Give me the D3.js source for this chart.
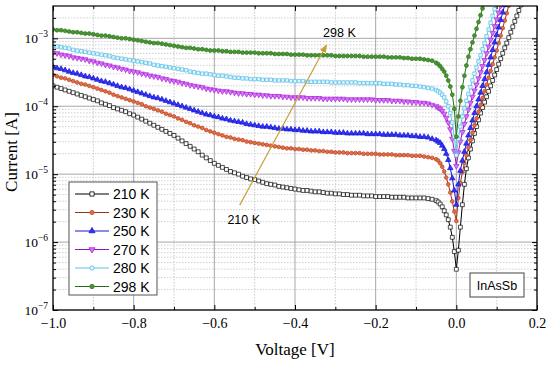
<!DOCTYPE html>
<html>
<head>
<meta charset="utf-8">
<script src="https://cdn.jsdelivr.net/npm/d3@7"></script>
<style>
  body { margin: 0; background: #fff; }
  svg { display: block; }
  .serif { font-family: "Liberation Serif", "Times New Roman", serif; }
  .sans { font-family: "Liberation Sans", Arial, sans-serif; }
</style>
</head>
<body>
<svg id="chart" width="550" height="365"></svg>
<script>
"use strict";

// voltage sweep: 10 mV steps up to -0.06 V, then 5 mV steps from -0.05 V to 0.2 V
const voltage = d3.range(-100, -5).map(i => i / 100)
    .concat(d3.range(-10, 41).map(i => i / 200));

// log10 of current [A], same order as voltage
const logI210 = [
    -3.70,-3.72,-3.74,-3.76,-3.78,-3.80,-3.82,-3.84,-3.86,-3.88,
    -3.90,-3.92,-3.95,-3.97,-3.99,-4.02,-4.04,-4.06,-4.08,-4.11,
    -4.13,-4.16,-4.19,-4.22,-4.25,-4.28,-4.31,-4.34,-4.37,-4.40,
    -4.43,-4.47,-4.51,-4.55,-4.59,-4.63,-4.67,-4.72,-4.76,-4.80,
    -4.84,-4.87,-4.90,-4.93,-4.96,-4.98,-5.00,-5.03,-5.05,-5.07,
    -5.08,-5.10,-5.12,-5.14,-5.15,-5.16,-5.18,-5.19,-5.20,-5.21,
    -5.22,-5.23,-5.24,-5.24,-5.25,-5.26,-5.26,-5.27,-5.28,-5.28,
    -5.29,-5.29,-5.30,-5.30,-5.31,-5.31,-5.31,-5.32,-5.32,-5.32,
    -5.33,-5.33,-5.33,-5.33,-5.34,-5.34,-5.34,-5.34,-5.35,-5.35,
    -5.35,-5.35,-5.35,-5.36,-5.37,
    -5.39,-5.41,-5.44,-5.48,-5.54,-5.60,-5.67,-5.78,-5.93,-6.14,-6.40,
    -6.12,-5.78,-5.45,-5.15,-4.92,-4.76,-4.63,-4.51,-4.40,-4.30,-4.20,
    -4.10,-4.02,-3.94,-3.86,-3.78,-3.70,-3.62,-3.54,-3.46,-3.38,-3.30,
    -3.22,-3.14,-3.07,-2.99,-2.91,-2.83,-2.75,-2.67,-2.59,-2.51,-2.43
];
const logI230 = [
    -3.54,-3.56,-3.58,-3.59,-3.61,-3.63,-3.65,-3.67,-3.68,-3.70,
    -3.72,-3.74,-3.76,-3.78,-3.80,-3.83,-3.85,-3.87,-3.89,-3.91,
    -3.93,-3.95,-3.97,-4.00,-4.02,-4.04,-4.06,-4.08,-4.11,-4.13,
    -4.15,-4.18,-4.20,-4.23,-4.25,-4.28,-4.30,-4.32,-4.35,-4.37,
    -4.39,-4.41,-4.43,-4.45,-4.46,-4.48,-4.49,-4.50,-4.52,-4.53,
    -4.54,-4.55,-4.56,-4.57,-4.58,-4.59,-4.60,-4.61,-4.62,-4.62,
    -4.63,-4.63,-4.64,-4.64,-4.65,-4.65,-4.66,-4.66,-4.67,-4.67,
    -4.68,-4.68,-4.68,-4.69,-4.69,-4.69,-4.69,-4.70,-4.70,-4.70,
    -4.70,-4.71,-4.71,-4.71,-4.71,-4.72,-4.72,-4.72,-4.72,-4.73,
    -4.73,-4.73,-4.74,-4.75,-4.76,
    -4.78,-4.80,-4.84,-4.89,-4.96,-5.05,-5.15,-5.27,-5.40,-5.55,-5.69,
    -5.35,-5.13,-4.97,-4.84,-4.72,-4.61,-4.50,-4.39,-4.28,-4.18,-4.08,
    -3.98,-3.88,-3.78,-3.68,-3.58,-3.48,-3.38,-3.28,-3.18,-3.07,-2.96,
    -2.85,-2.74,-2.63,-2.52,-2.41
];
const logI250 = [
    -3.42,-3.44,-3.45,-3.47,-3.49,-3.51,-3.52,-3.54,-3.56,-3.57,
    -3.59,-3.61,-3.63,-3.64,-3.66,-3.68,-3.70,-3.72,-3.73,-3.75,
    -3.77,-3.79,-3.81,-3.83,-3.85,-3.87,-3.88,-3.90,-3.92,-3.94,
    -3.96,-3.98,-4.00,-4.02,-4.04,-4.06,-4.08,-4.10,-4.12,-4.13,
    -4.15,-4.16,-4.18,-4.19,-4.21,-4.22,-4.23,-4.24,-4.26,-4.27,
    -4.28,-4.29,-4.30,-4.30,-4.31,-4.32,-4.33,-4.33,-4.34,-4.34,
    -4.35,-4.35,-4.36,-4.36,-4.37,-4.37,-4.37,-4.38,-4.38,-4.38,
    -4.39,-4.39,-4.39,-4.40,-4.40,-4.40,-4.40,-4.40,-4.41,-4.41,
    -4.41,-4.41,-4.42,-4.42,-4.42,-4.42,-4.43,-4.43,-4.43,-4.44,
    -4.44,-4.45,-4.45,-4.46,-4.48,
    -4.50,-4.52,-4.54,-4.58,-4.63,-4.70,-4.79,-4.91,-5.06,-5.24,-5.45,
    -5.15,-4.95,-4.80,-4.67,-4.55,-4.43,-4.32,-4.21,-4.10,-4.00,-3.90,
    -3.80,-3.70,-3.60,-3.50,-3.39,-3.28,-3.17,-3.06,-2.95,-2.84,-2.73,
    -2.62,-2.51,-2.40
];
const logI270 = [
    -3.21,-3.22,-3.24,-3.25,-3.26,-3.28,-3.29,-3.30,-3.31,-3.33,
    -3.34,-3.36,-3.37,-3.39,-3.40,-3.42,-3.43,-3.45,-3.46,-3.48,
    -3.49,-3.50,-3.52,-3.53,-3.55,-3.56,-3.57,-3.59,-3.60,-3.62,
    -3.63,-3.64,-3.66,-3.67,-3.69,-3.70,-3.71,-3.72,-3.74,-3.75,
    -3.76,-3.77,-3.78,-3.78,-3.79,-3.80,-3.81,-3.81,-3.82,-3.82,
    -3.83,-3.83,-3.84,-3.84,-3.85,-3.85,-3.85,-3.86,-3.86,-3.87,
    -3.87,-3.87,-3.87,-3.88,-3.88,-3.88,-3.88,-3.89,-3.89,-3.89,
    -3.89,-3.89,-3.89,-3.90,-3.90,-3.90,-3.90,-3.90,-3.90,-3.90,
    -3.91,-3.91,-3.91,-3.91,-3.92,-3.92,-3.92,-3.93,-3.93,-3.94,
    -3.94,-3.95,-3.95,-3.96,-3.98,
    -4.00,-4.02,-4.04,-4.07,-4.11,-4.17,-4.24,-4.34,-4.48,-4.66,-4.88,
    -4.68,-4.52,-4.38,-4.26,-4.15,-4.05,-3.95,-3.86,-3.77,-3.68,-3.59,
    -3.50,-3.41,-3.32,-3.22,-3.12,-3.02,-2.92,-2.82,-2.72,-2.62,-2.52,
    -2.42
];
const logI280 = [
    -3.11,-3.12,-3.13,-3.14,-3.15,-3.17,-3.18,-3.19,-3.20,-3.21,
    -3.22,-3.23,-3.24,-3.25,-3.26,-3.28,-3.29,-3.30,-3.31,-3.32,
    -3.33,-3.34,-3.35,-3.36,-3.37,-3.39,-3.40,-3.41,-3.42,-3.43,
    -3.44,-3.45,-3.46,-3.47,-3.49,-3.50,-3.51,-3.52,-3.52,-3.53,
    -3.54,-3.55,-3.55,-3.56,-3.57,-3.58,-3.58,-3.59,-3.59,-3.60,
    -3.60,-3.60,-3.61,-3.61,-3.61,-3.62,-3.62,-3.62,-3.62,-3.63,
    -3.63,-3.63,-3.63,-3.64,-3.64,-3.64,-3.64,-3.64,-3.64,-3.65,
    -3.65,-3.65,-3.65,-3.65,-3.65,-3.65,-3.66,-3.66,-3.66,-3.66,
    -3.66,-3.66,-3.67,-3.67,-3.67,-3.68,-3.68,-3.69,-3.69,-3.70,
    -3.70,-3.71,-3.72,-3.73,-3.74,
    -3.76,-3.78,-3.80,-3.83,-3.87,-3.93,-4.00,-4.10,-4.24,-4.45,-4.72,
    -4.48,-4.30,-4.15,-4.03,-3.92,-3.82,-3.72,-3.62,-3.52,-3.43,-3.34,
    -3.25,-3.16,-3.07,-2.97,-2.87,-2.77,-2.67,-2.57,-2.47
];
const logI298 = [
    -2.87,-2.88,-2.88,-2.89,-2.90,-2.91,-2.91,-2.92,-2.93,-2.93,
    -2.94,-2.95,-2.96,-2.96,-2.97,-2.98,-2.99,-3.00,-3.00,-3.01,
    -3.02,-3.03,-3.04,-3.05,-3.06,-3.07,-3.07,-3.08,-3.09,-3.10,
    -3.11,-3.12,-3.13,-3.14,-3.14,-3.15,-3.16,-3.16,-3.17,-3.18,
    -3.18,-3.18,-3.19,-3.19,-3.20,-3.20,-3.20,-3.21,-3.21,-3.21,
    -3.21,-3.22,-3.22,-3.22,-3.22,-3.23,-3.23,-3.23,-3.23,-3.24,
    -3.24,-3.24,-3.24,-3.25,-3.25,-3.25,-3.25,-3.25,-3.25,-3.25,
    -3.26,-3.26,-3.26,-3.26,-3.26,-3.26,-3.26,-3.27,-3.27,-3.27,
    -3.27,-3.27,-3.27,-3.28,-3.28,-3.28,-3.28,-3.29,-3.29,-3.30,
    -3.30,-3.30,-3.31,-3.32,-3.33,
    -3.36,-3.38,-3.41,-3.45,-3.49,-3.55,-3.62,-3.71,-3.83,-4.04,-4.45,
    -4.15,-3.92,-3.72,-3.55,-3.40,-3.27,-3.16,-3.06,-2.96,-2.86,-2.76,
    -2.66,-2.56,-2.46
];

const seriesNames = ["210 K", "230 K", "250 K", "270 K", "280 K", "298 K"];
const seriesLogI = [logI210, logI230, logI250, logI270, logI280, logI298];

const xTicks = [-1.0, -0.8, -0.6, -0.4, -0.2, 0.0, 0.2];
const xMinorTicks = [-0.9, -0.7, -0.5, -0.3, -0.1, 0.1];
const yDecades = [-7, -6, -5, -4, -3];

// annotation arrow (data coordinates) and its labels
const arrowFrom = [-0.537, 3.5e-6];
const arrowTo = [-0.322, 8e-4];
const arrowLabels = ["210 K", "298 K"];
const sampleLabel = "InAsSb";

// стили серий
const styles = [
    {line: "#000000", stroke: "#000000", fill: "#ffffff", sym: d3.symbolSquare, size: 15, rot: 0},
    {line: "#9a3418", stroke: "#c0401e", fill: "#e0704c", sym: d3.symbolCircle, size: 11, rot: 0},
    {line: "#1818d0", stroke: "#1414d8", fill: "#3434f0", sym: d3.symbolTriangle, size: 13, rot: 0},
    {line: "#9018c0", stroke: "#b020e0", fill: "#d27af0", sym: d3.symbolTriangle, size: 13, rot: 180},
    {line: "#5cc4ea", stroke: "#50bce8", fill: "#e4f6fd", sym: d3.symbolSquare, size: 12, rot: 0},
    {line: "#24701a", stroke: "#2e7a1c", fill: "#4a9434", sym: d3.symbolCircle, size: 12, rot: 0},
];
const legendSymbols = [d3.symbolSquare, d3.symbolCircle, d3.symbolTriangle, d3.symbolTriangle, d3.symbolCircle, d3.symbolCircle];

const plot = {left: 53, right: 537, top: 6, bottom: 310};

const svg = d3.select("#chart");

const x = d3.scaleLinear().domain([-1.0, 0.2]).range([plot.left, plot.right]);
const y = d3.scaleLog().domain([1e-7, Math.pow(10, -2.524)]).range([plot.bottom, plot.top]);

const yMinorTicks = [];
yDecades.forEach(e => {
    for (let k = 2; k <= 9; k++) {
        const v = k * Math.pow(10, e);
        if (v < y.domain()[1]) yMinorTicks.push(v);
    }
});
const yMajorTicks = yDecades.map(e => Math.pow(10, e));

// сетка
const grid = svg.append("g");
grid.selectAll(".gxm").data(xMinorTicks).join("line")
    .attr("x1", d => x(d)).attr("x2", d => x(d))
    .attr("y1", plot.top).attr("y2", plot.bottom)
    .attr("stroke", "#bdbdbd").attr("stroke-width", 0.8).attr("stroke-dasharray", "1.5,1.5");
grid.selectAll(".gym").data(yMinorTicks).join("line")
    .attr("x1", plot.left).attr("x2", plot.right)
    .attr("y1", d => y(d)).attr("y2", d => y(d))
    .attr("stroke", "#c4c4c4").attr("stroke-width", 0.8).attr("stroke-dasharray", "1.5,1.5");
grid.selectAll(".gx").data(xTicks).join("line")
    .attr("x1", d => x(d)).attr("x2", d => x(d))
    .attr("y1", plot.top).attr("y2", plot.bottom)
    .attr("stroke", "#9e9e9e").attr("stroke-width", 0.9);
grid.selectAll(".gy").data(yMajorTicks).join("line")
    .attr("x1", plot.left).attr("x2", plot.right)
    .attr("y1", d => y(d)).attr("y2", d => y(d))
    .attr("stroke", "#9e9e9e").attr("stroke-width", 0.9);

// серии
svg.append("clipPath").attr("id", "clip")
    .append("rect")
    .attr("x", plot.left).attr("y", plot.top)
    .attr("width", plot.right - plot.left).attr("height", plot.bottom - plot.top);

const series = seriesNames.map((name, s) => ({
    name: name,
    style: styles[s],
    points: seriesLogI[s].map((lg, i) => ({v: voltage[i], i: Math.pow(10, lg)}))
}));

const line = d3.line().x(d => x(d.v)).y(d => y(d.i));
const marks = svg.append("g").attr("clip-path", "url(#clip)");

series.forEach(s => {
    const g = marks.append("g");
    g.append("path")
        .attr("d", line(s.points))
        .attr("fill", "none")
        .attr("stroke", s.style.line)
        .attr("stroke-width", 1);
    const sym = d3.symbol().type(s.style.sym).size(s.style.size);
    g.selectAll("path.pt").data(s.points).join("path")
        .attr("class", "pt")
        .attr("d", sym)
        .attr("transform", d => `translate(${x(d.v)},${y(d.i)}) rotate(${s.style.rot})`)
        .attr("fill", s.style.fill)
        .attr("stroke", s.style.stroke)
        .attr("stroke-width", 0.7);
});

// оси
function styleAxis(g) {
    g.select(".domain").remove();
    g.selectAll(".tick line").attr("stroke", "#000").attr("stroke-width", 1);
}
svg.append("g").attr("transform", `translate(0,${plot.bottom})`)
    .call(d3.axisBottom(x).tickValues(xTicks).tickSize(-5).tickPadding(8).tickFormat(d3.format(".1f")))
    .call(styleAxis)
    .call(g => g.selectAll("text").attr("class", "serif").attr("font-family", null)
        .attr("font-size", 14).attr("fill", "#000"));
svg.append("g").attr("transform", `translate(0,${plot.bottom})`)
    .call(d3.axisBottom(x).tickValues(xMinorTicks).tickSize(-3).tickFormat(""))
    .call(styleAxis);
svg.append("g").attr("transform", `translate(0,${plot.top})`)
    .call(d3.axisTop(x).tickValues(xTicks).tickSize(-5).tickFormat(""))
    .call(styleAxis);
svg.append("g").attr("transform", `translate(0,${plot.top})`)
    .call(d3.axisTop(x).tickValues(xMinorTicks).tickSize(-3).tickFormat(""))
    .call(styleAxis);
svg.append("g").attr("transform", `translate(${plot.left},0)`)
    .call(d3.axisLeft(y).tickValues(yMajorTicks).tickSize(-5).tickFormat(""))
    .call(styleAxis);
svg.append("g").attr("transform", `translate(${plot.left},0)`)
    .call(d3.axisLeft(y).tickValues(yMinorTicks).tickSize(-3).tickFormat(""))
    .call(styleAxis);
svg.append("g").attr("transform", `translate(${plot.right},0)`)
    .call(d3.axisRight(y).tickValues(yMajorTicks).tickSize(-5).tickFormat(""))
    .call(styleAxis);
svg.append("g").attr("transform", `translate(${plot.right},0)`)
    .call(d3.axisRight(y).tickValues(yMinorTicks).tickSize(-3).tickFormat(""))
    .call(styleAxis);

// подписи степеней 10^n
const yLab = svg.append("g").attr("class", "serif").attr("fill", "#000");
yDecades.forEach(e => {
    const t = yLab.append("text")
        .attr("x", plot.left - 5)
        .attr("y", y(Math.pow(10, e)) + 5)
        .attr("text-anchor", "end");
    t.append("tspan").attr("font-size", 13.5).text("10");
    t.append("tspan").attr("font-size", 9.5).attr("dy", -6).text("\u2212" + Math.abs(e));
});

// рамка
svg.append("rect")
    .attr("x", plot.left).attr("y", plot.top)
    .attr("width", plot.right - plot.left).attr("height", plot.bottom - plot.top)
    .attr("fill", "none").attr("stroke", "#000").attr("stroke-width", 1.2);

// названия осей
svg.append("text").attr("class", "serif")
    .attr("x", (plot.left + plot.right) / 2).attr("y", 355)
    .attr("text-anchor", "middle").attr("font-size", 17)
    .text("Voltage [V]");
svg.append("text").attr("class", "serif")
    .attr("transform", `translate(17,${(plot.top + plot.bottom) / 2 - 6}) rotate(-90)`)
    .attr("text-anchor", "middle").attr("font-size", 17)
    .text("Current [A]");

// стрелка
svg.append("defs").append("marker")
    .attr("id", "arrowhead")
    .attr("viewBox", "0 0 10 10").attr("refX", 9).attr("refY", 5)
    .attr("markerWidth", 7).attr("markerHeight", 7)
    .attr("orient", "auto")
    .append("path").attr("d", "M0,1 L10,5 L0,9 Z").attr("fill", "#c8a038");
svg.append("line")
    .attr("x1", x(arrowFrom[0])).attr("y1", y(arrowFrom[1]))
    .attr("x2", x(arrowTo[0])).attr("y2", y(arrowTo[1]))
    .attr("stroke", "#c8a038").attr("stroke-width", 1.2)
    .attr("marker-end", "url(#arrowhead)");
svg.append("text").attr("class", "sans")
    .attr("x", x(arrowFrom[0]) + 4).attr("y", y(arrowFrom[1]) + 19)
    .attr("text-anchor", "middle").attr("font-size", 12.5)
    .text(arrowLabels[0]);
svg.append("text").attr("class", "sans")
    .attr("x", x(arrowTo[0]) + 13).attr("y", y(arrowTo[1]) - 8)
    .attr("text-anchor", "middle").attr("font-size", 12.5)
    .text(arrowLabels[1]);

// легенда
const legend = svg.append("g").attr("class", "sans");
legend.append("rect")
    .attr("x", 69).attr("y", 182).attr("width", 88).attr("height", 113)
    .attr("fill", "#fff").attr("stroke", "#555").attr("stroke-width", 1);
series.forEach((s, k) => {
    const cy = 194 + k * 18.5;
    legend.append("line")
        .attr("x1", 75).attr("x2", 109).attr("y1", cy).attr("y2", cy)
        .attr("stroke", s.style.line).attr("stroke-width", 1);
    legend.append("path")
        .attr("d", d3.symbol().type(legendSymbols[k]).size(s.style.size + 3)())
        .attr("transform", `translate(92,${cy}) rotate(${s.style.rot})`)
        .attr("fill", s.style.fill).attr("stroke", s.style.stroke).attr("stroke-width", 0.8);
    legend.append("text")
        .attr("x", 113).attr("y", cy + 5)
        .attr("font-size", 14)
        .text(s.name);
});

// подпись образца
svg.append("rect")
    .attr("x", 470).attr("y", 273).attr("width", 54).attr("height", 24)
    .attr("fill", "#fff").attr("stroke", "#444").attr("stroke-width", 1);
svg.append("text").attr("class", "sans")
    .attr("x", 497).attr("y", 289.5)
    .attr("text-anchor", "middle").attr("font-size", 12.5)
    .text(sampleLabel);
</script>
</body>
</html>
